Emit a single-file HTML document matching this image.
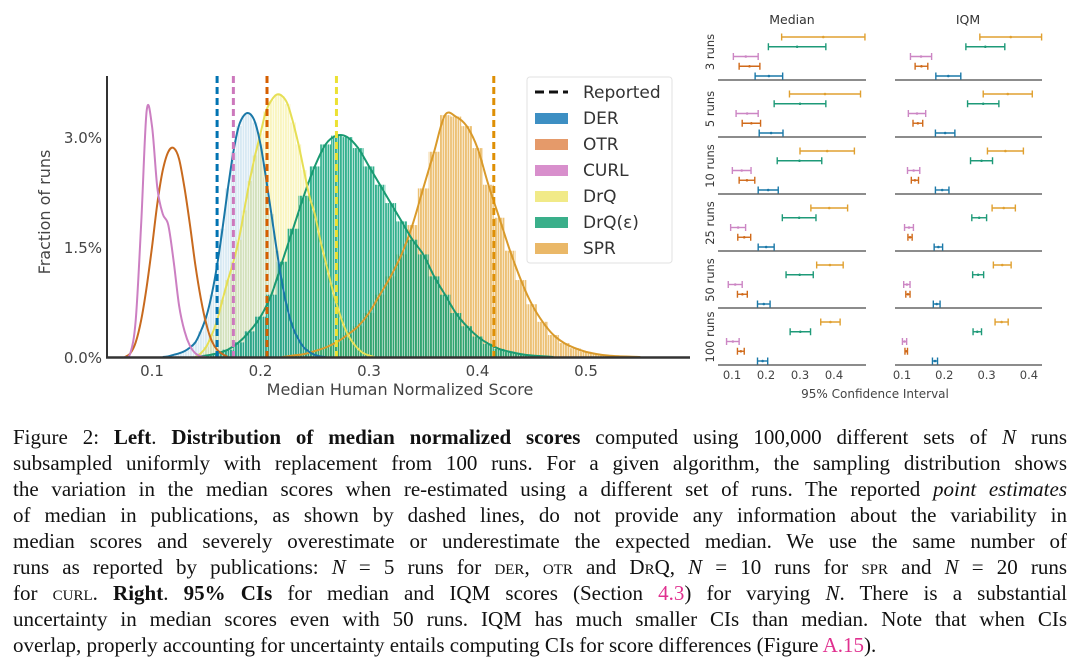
<!DOCTYPE html>
<html><head><meta charset="utf-8">
<style>
html,body{margin:0;padding:0;background:#fff;}
body{width:1080px;height:670px;position:relative;overflow:hidden;font-family:"Liberation Sans","DejaVu Sans",sans-serif;}
#cap{position:absolute;left:13px;top:424px;width:1054px;font-family:"Liberation Serif",serif;font-size:21px;color:#111;}
#cap div{height:26px;line-height:26px;text-align:justify;text-align-last:justify;white-space:nowrap;}
.sc{font-variant:small-caps;}
.lk{color:#e0308f;}
svg text{font-family:"DejaVu Sans","Liberation Sans",sans-serif;}
</style></head>
<body>
<svg id="chart" width="1080" height="420" style="position:absolute;left:0;top:0">
<defs>
<pattern id="stripeW" width="2.5" height="10" patternUnits="userSpaceOnUse"><rect x="0" y="0" width="1.9" height="10" fill="#fff"/></pattern>
<mask id="stripemask" maskUnits="userSpaceOnUse" x="0" y="0" width="1080" height="420"><rect x="0" y="0" width="1080" height="420" fill="url(#stripeW)"/></mask>
</defs>
<g id="left"></g>
<g id="right"></g>
</svg>
<div id="cap">
<div>Figure 2: <b>Left</b>. <b>Distribution of median normalized scores</b> computed using 100,000 different sets of <i>N</i> runs</div>
<div>subsampled uniformly with replacement from 100 runs. For a given algorithm, the sampling distribution shows</div>
<div>the variation in the median scores when re-estimated using a different set of runs. The reported <i>point estimates</i></div>
<div>of median in publications, as shown by dashed lines, do not provide any information about the variability in</div>
<div>median scores and severely overestimate or underestimate the expected median. We use the same number of</div>
<div>runs as reported by publications: <i>N</i> = 5 runs for <span class="sc">der</span>, <span class="sc">otr</span> and <span class="sc">Dr</span>Q, <i>N</i> = 10 runs for <span class="sc">spr</span> and <i>N</i> = 20 runs</div>
<div>for <span class="sc">curl</span>. <b>Right</b>. <b>95% CIs</b> for median and IQM scores (Section <span class="lk">4.3</span>) for varying <i>N</i>. There is a substantial</div>
<div>uncertainty in median scores even with 50 runs. IQM has much smaller CIs than median. Note that when CIs</div>
<div style="text-align-last:left">overlap, properly accounting for uncertainty entails computing CIs for score differences (Figure <span class="lk">A.15</span>).</div>
</div>
<script>
// ---------- LEFT CHART DATA ----------
const seriesNames = ["SPR","DrQ(ε)","DrQ","DER","OTR","CURL"];
const sprStart = 0.22, sprStep = 0.01;
const sprValues = [0,0.02,0.04,0.08,0.13,0.2,0.3,0.42,0.6,0.85,1.1,1.4,1.8,2.3,2.8,3.3,3.28,3.15,2.85,2.35,1.9,1.45,1.05,0.72,0.48,0.3,0.19,0.12,0.07,0.04,0.02,0.01,0.005,0];
const drqeStart = 0.14, drqeStep = 0.01;
const drqeValues = [0,0.02,0.05,0.1,0.2,0.35,0.55,0.85,1.3,1.75,2.2,2.6,2.9,3.02,3.0,2.85,2.6,2.35,2.1,1.85,1.6,1.4,1.1,0.85,0.6,0.42,0.28,0.18,0.11,0.07,0.04,0.02,0.01,0];
const drqStart = 0.14, drqStep = 0.005;
const drqValues = [0,0.05,0.14,0.3,0.5,0.78,1.05,1.3,1.6,2.0,2.4,2.75,3.05,3.35,3.5,3.58,3.56,3.45,3.2,2.9,2.55,2.2,1.95,1.6,1.3,1.0,0.73,0.5,0.32,0.2,0.11,0.05,0.02,0];
const derStart = 0.11, derStep = 0.005;
const derValues = [0,0.01,0.03,0.05,0.08,0.13,0.2,0.35,0.55,0.85,1.25,1.75,2.3,2.8,3.15,3.3,3.32,3.2,2.9,2.45,1.95,1.45,1.0,0.65,0.4,0.24,0.13,0.07,0.03,0.01,0];
const otrStart = 0.075, otrStep = 0.005;
const otrValues = [0,0.05,0.2,0.5,0.95,1.5,2.1,2.55,2.8,2.85,2.7,2.3,1.8,1.25,0.8,0.45,0.22,0.1,0.04,0];
const curlStart = 0.075, curlStep = 0.005;
const curlValues = [0,0.05,0.5,1.8,3.35,3.15,2.3,1.95,1.8,1.3,0.7,0.35,0.15,0.05,0.01,0];
const reportedNames = ["DER","CURL","OTR","DrQ","SPR"];
const reportedValues = [0.16,0.175,0.206,0.27,0.415];
const xTicks = [0.1,0.2,0.3,0.4,0.5];
const xTickLabels = ["0.1","0.2","0.3","0.4","0.5"];
const yTicks = [0,1.5,3.0];
const yTickLabels = ["0.0%","1.5%","3.0%"];

// ---------- RIGHT CHART DATA ----------
const runLabels = ["3 runs","5 runs","10 runs","25 runs","50 runs","100 runs"];
const ciAlgos = ["DER","OTR","CURL","DrQ(ε)","SPR"];
const medLo = {DER:[0.168,0.180,0.177,0.177,0.175,0.175],OTR:[0.121,0.130,0.121,0.117,0.116,0.116],CURL:[0.104,0.112,0.101,0.096,0.089,0.084],"DrQ(ε)":[0.207,0.224,0.233,0.248,0.259,0.271],SPR:[0.246,0.269,0.300,0.332,0.349,0.361]};
const medHi = {DER:[0.249,0.250,0.236,0.224,0.212,0.205],OTR:[0.182,0.184,0.167,0.155,0.145,0.136],CURL:[0.177,0.177,0.156,0.140,0.130,0.121],"DrQ(ε)":[0.376,0.376,0.364,0.347,0.339,0.331],SPR:[0.491,0.478,0.460,0.440,0.427,0.418]};
const iqmLo = {DER:[0.180,0.179,0.179,0.176,0.174,0.172],OTR:[0.131,0.126,0.122,0.114,0.109,0.107],CURL:[0.120,0.115,0.113,0.106,0.104,0.101],"DrQ(ε)":[0.251,0.255,0.262,0.265,0.267,0.268],SPR:[0.284,0.292,0.302,0.313,0.316,0.320]};
const iqmHi = {DER:[0.239,0.225,0.211,0.196,0.190,0.184],OTR:[0.161,0.149,0.139,0.124,0.119,0.113],CURL:[0.170,0.156,0.142,0.127,0.119,0.111],"DrQ(ε)":[0.343,0.329,0.314,0.300,0.293,0.288],SPR:[0.430,0.408,0.387,0.368,0.358,0.351]};
const ciTicks = [0.1,0.2,0.3,0.4];
const ciTickLabels = ["0.1","0.2","0.3","0.4"];

const NS="http://www.w3.org/2000/svg";
function mk(parent,tag,attrs,txt){const e=document.createElementNS(NS,tag);for(const k in attrs)e.setAttribute(k,attrs[k]);if(txt!==undefined)e.textContent=txt;parent.appendChild(e);return e;}

const xs = v => 152 + (v-0.1)*1085;
const ys = p => 357 - p*73.3;
const xm = v => 732 + (v-0.1)*340;
const xi = v => 902 + (v-0.1)*423;

const L=document.getElementById('left');
const colors={SPR:"#de8f05","DrQ(ε)":"#029e73",DrQ:"#ece133",DER:"#0173b2",OTR:"#d55e00",CURL:"#cc78bc"};
const lineColors={SPR:"#d99a2b","DrQ(ε)":"#1a9a72",DrQ:"#e6df55",DER:"#1a78a8",OTR:"#c86a1e",CURL:"#cc7fc2"};
const legendColors={DER:"#3d8fc3",OTR:"#e59a6a",CURL:"#d88fcc",DrQ:"#f1ea88","DrQ(ε)":"#3aaf8a",SPR:"#eab868"};

function pts(start,step,vals){return vals.map((v,i)=>[xs(start+i*step),ys(v)]);}
function smooth(p){let d="M"+p[0][0].toFixed(1)+","+p[0][1].toFixed(1);for(let i=0;i<p.length-1;i++){const p0=p[Math.max(0,i-1)],p1=p[i],p2=p[i+1],p3=p[Math.min(p.length-1,i+2)];const c1=[p1[0]+(p2[0]-p0[0])/6,p1[1]+(p2[1]-p0[1])/6],c2=[p2[0]-(p3[0]-p1[0])/6,p2[1]-(p3[1]-p1[1])/6];d+=" C"+c1[0].toFixed(1)+","+c1[1].toFixed(1)+" "+c2[0].toFixed(1)+","+c2[1].toFixed(1)+" "+p2[0].toFixed(1)+","+p2[1].toFixed(1);}return d;}

function bars(name,start,step,vals,op){
  const g=mk(L,'g',{mask:'url(#stripemask)',opacity:op});
  
  
  vals.forEach((v,i)=>{const x0=xs(start+(i-0.5)*step),x1=xs(start+(i+0.5)*step);
    const r=mk(g,'rect',{x:x0,y:ys(v),width:x1-x0,height:Math.max(0,357-ys(v)),fill:colors[name]});
    
    });
}
bars("SPR",sprStart,sprStep,sprValues,0.55);
bars("DrQ",drqStart,drqStep,drqValues,0.3);
bars("DrQ(ε)",drqeStart,drqeStep,drqeValues,0.8);
bars("DER",derStart,derStep,derValues,0.15);

[["SPR",sprStart,sprStep,sprValues],["DrQ(ε)",drqeStart,drqeStep,drqeValues],["DrQ",drqStart,drqStep,drqValues],["DER",derStart,derStep,derValues],["OTR",otrStart,otrStep,otrValues],["CURL",curlStart,curlStep,curlValues]].forEach(s=>{
  const p=mk(L,'path',{d:smooth(pts(s[1],s[2],s[3])),fill:'none',stroke:lineColors[s[0]],'stroke-width':2});
  
  
});

reportedNames.forEach((n,i)=>{
  const l=mk(L,'line',{x1:xs(reportedValues[i]),x2:xs(reportedValues[i]),y1:76,y2:357,stroke:colors[n],'stroke-width':3,'stroke-dasharray':'7,4'});
  
  
});

const ya=mk(L,'line',{x1:107,x2:107,y1:76,y2:358,stroke:'#333','stroke-width':2});


const xa=mk(L,'line',{x1:106,x2:690,y1:357.5,y2:357.5,stroke:'#333','stroke-width':2.5});


xTicks.forEach((v,i)=>{const t=mk(L,'text',{x:xs(v),y:376,'text-anchor':'middle','font-size':15,fill:'#444'},xTickLabels[i]);
  
  });
yTicks.forEach((v,i)=>{const t=mk(L,'text',{x:102,y:ys(v)+6,'text-anchor':'end','font-size':15,fill:'#444'},yTickLabels[i]);
  
  });
const xt=mk(L,'text',{x:400,y:395,'text-anchor':'middle','font-size':16,fill:'#444'},"Median Human Normalized Score");


const yt=mk(L,'text',{x:0,y:0,transform:'translate(50,212) rotate(-90)','text-anchor':'middle','font-size':16,fill:'#444'},"Fraction of runs");



const lg=mk(L,'g',{});


mk(lg,'rect',{x:527,y:77,width:145,height:186,rx:3,fill:'#fff','fill-opacity':0.85,stroke:'#e2e2e2'});
mk(lg,'line',{x1:535,x2:568,y1:92,y2:92,stroke:'#111','stroke-width':3,'stroke-dasharray':'9,5'});
const rep=mk(lg,'text',{x:583,y:98,'font-size':17,fill:'#333'},"Reported");


["DER","OTR","CURL","DrQ","DrQ(ε)","SPR"].forEach((n,i)=>{
  const y=118+i*26;
  mk(lg,'rect',{x:535,y:y-5,width:33,height:11,fill:legendColors[n]});
  const t=mk(lg,'text',{x:583,y:y+6,'font-size':17,fill:'#333'},n);
  
  
});

const R=document.getElementById('right');
const ciColors={DER:"#1a78a8",OTR:"#d06a1a",CURL:"#cc86c4","DrQ(ε)":"#1e9a78",SPR:"#e0a030"};
[["Median",xm,medLo,medHi,718,866,792],["IQM",xi,iqmLo,iqmHi,895,1042,968]].forEach(pan=>{
  const [title,xf,lo,hi,ax0,ax1,cx]=pan;
  const t=mk(R,'text',{x:cx,y:24,'text-anchor':'middle','font-size':12.5,fill:'#333'},title);
  
  
  runLabels.forEach((rl,r)=>{
    const base=80+57*r;
    const bl=mk(R,'line',{x1:ax0,x2:ax1,y1:base,y2:base,stroke:'#666','stroke-width':1.5});
    
    
    ciAlgos.forEach((a,k)=>{
      const y=base-4-9.75*k, x0=xf(lo[a][r]), x1=xf(hi[a][r]), c=ciColors[a];
      const g=mk(R,'g',{stroke:c,'stroke-width':1.4});
      
      
      mk(g,'line',{x1:x0,x2:x1,y1:y,y2:y});
      mk(g,'line',{x1:x0,x2:x0,y1:y-3.5,y2:y+3.5});
      mk(g,'line',{x1:x1,x2:x1,y1:y-3.5,y2:y+3.5});
      mk(g,'circle',{cx:(x0+x1)/2,cy:y,r:1.3,fill:c,stroke:'none'});
    });
  });
  ciTicks.forEach((v,i)=>{const tt=mk(R,'text',{x:xf(v),y:379,'text-anchor':'middle','font-size':11.5,fill:'#444'},ciTickLabels[i]);
    
    });
});
runLabels.forEach((rl,r)=>{
  const cy=80+57*r-28;
  const t=mk(R,'text',{x:0,y:0,transform:'translate(714,'+cy+') rotate(-90)','text-anchor':'middle','font-size':11.5,fill:'#333'},rl);
  
  
});
const cit=mk(R,'text',{x:875,y:398,'text-anchor':'middle','font-size':12,fill:'#444'},"95% Confidence Interval");


</script>
</body></html>
